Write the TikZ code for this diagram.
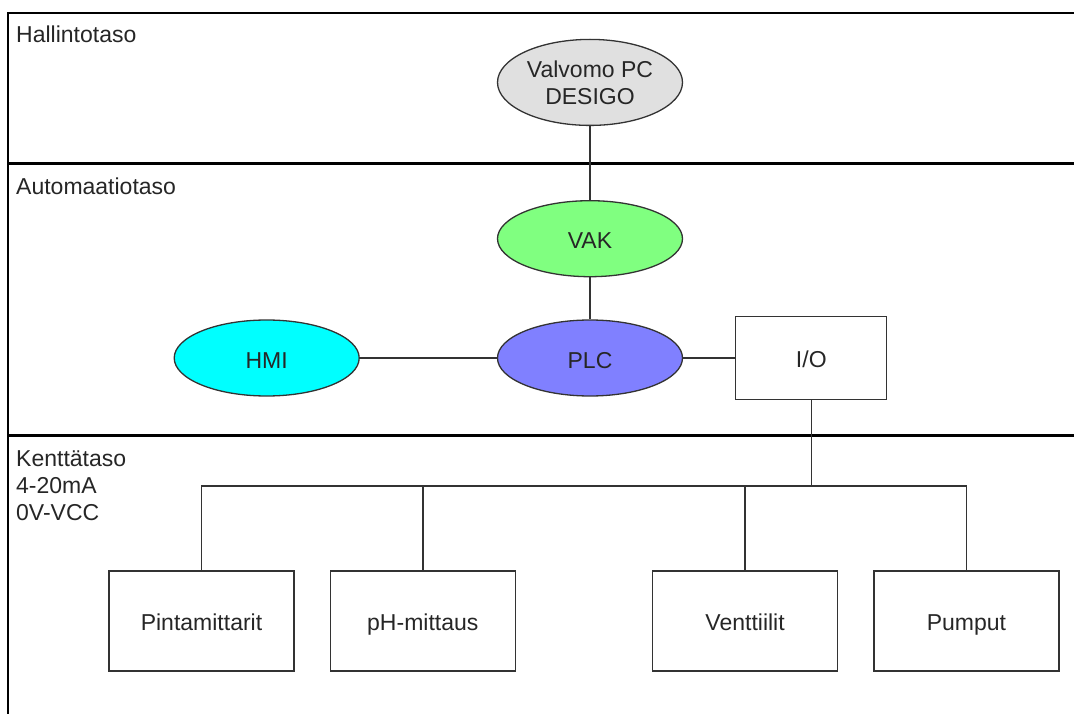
\documentclass[tikz,border=0pt]{standalone}
\usepackage{fontspec}
\setmainfont{Liberation Sans}
\usetikzlibrary{shapes.geometric,positioning,calc}
\definecolor{pcgray}{RGB}{224,224,224}
\definecolor{vakgreen}{RGB}{128,255,128}
\definecolor{plcblue}{RGB}{128,128,255}
\definecolor{hmicyan}{RGB}{0,255,255}
\definecolor{edgegray}{RGB}{51,51,51}
\tikzset{
	unitnode/.style={ellipse, draw=edgegray, line width=1.3pt, minimum width=185pt,
		minimum height=76pt, inner sep=0pt, align=center, text=black!85,
		text height=22pt, text depth=2pt, font=\fontsize{23}{27}\selectfont},
	devbox/.style={rectangle, draw=edgegray, line width=1.3pt, minimum width=185pt,
		minimum height=100pt, inner sep=0pt, align=center, text=black!85,
		text height=21pt, text depth=3pt, font=\fontsize{23}{27}\selectfont},
	tierlabel/.style={inner sep=0pt, align=left, text=black!85,
		font=\fontsize{23}{27}\selectfont},
	wire/.style={line width=1.4pt, edgegray},
	tierline/.style={line width=3pt, black}
}
\begin{document}
\begin{tikzpicture}[x=1pt, y=-1pt]
	\useasboundingbox (0,0) rectangle (1074,714);
	% frame and tiers
	\draw[line width=2pt] (1074,13) -- (8,13) -- (8,714);
	\draw[tierline] (8,164) -- (1074,164);
	\draw[tierline] (8,435) -- (1074,435);
	\node[tierlabel, anchor=base west] (hallinto) at (16,43) {Hallintotaso};
	\node[tierlabel, anchor=base west] (automaatio) at (16,195) {Automaatiotaso};
	\node[tierlabel, anchor=north west] (kentta) at (16,450) {Kenttätaso\\4-20mA\\0V-VCC};
	% automation level
	\node[unitnode, fill=plcblue] (plc) at (590,358) {PLC};
	\node[unitnode, fill=vakgreen, above=42pt of plc] (vak) {VAK};
	\node[unitnode, fill=pcgray, minimum height=86pt, text height={}, text depth={},
		above=74pt of vak] (valvomo) {Valvomo PC\\DESIGO};
	\node[unitnode, fill=hmicyan, left=137pt of plc] (hmi) {HMI};
	\node[devbox, minimum width=151pt, minimum height=83pt, right=52pt of plc] (io) {I/O};
	% field level
	\node[devbox] (pinta) at (201.5,621) {Pintamittarit};
	\node[devbox, right=35pt of pinta] (ph) {pH-mittaus};
	\node[devbox, right=136pt of ph] (ventt) {Venttiilit};
	\node[devbox, right=35pt of ventt] (pumput) {Pumput};
	\coordinate (bus) at ($(io.south)+(0,86)$);
	\draw[wire] (valvomo) -- (vak);
	\draw[wire] (vak) -- (plc);
	\draw[wire] (hmi) -- (plc);
	\draw[wire] (plc) -- (io);
	\draw[wire] (io.south) -- (bus);
	\draw[wire] (pinta.north) |- (bus);
	\draw[wire] (ph.north) |- (bus);
	\draw[wire] (ventt.north) |- (bus);
	\draw[wire] (pumput.north) |- (bus);
\end{tikzpicture}
\end{document}
